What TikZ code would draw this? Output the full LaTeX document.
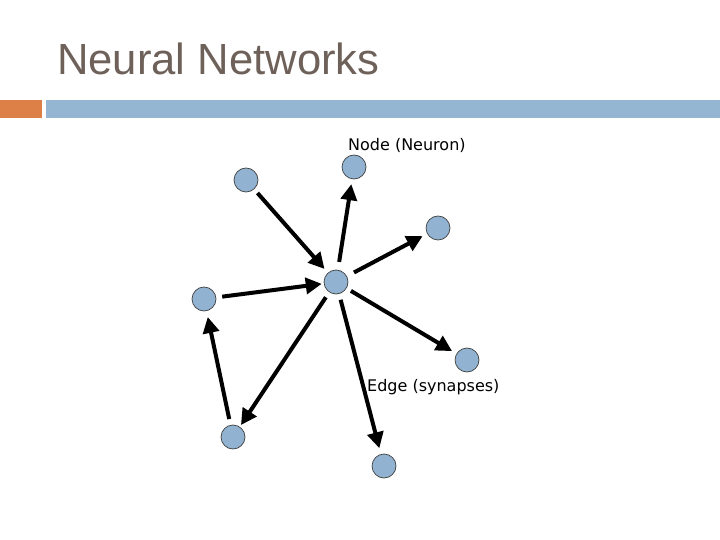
\documentclass[tikz,border=0pt]{standalone}
\usepackage{fontspec}
\setmainfont{Liberation Sans}
\newfontfamily\labelfont{DejaVu Sans}
\usetikzlibrary{arrows.meta}
\definecolor{titlegray}{RGB}{110,97,90}
\definecolor{barorange}{RGB}{221,128,71}
\definecolor{barblue}{RGB}{148,182,210}
\definecolor{neuronblue}{RGB}{145,178,208}
\tikzset{
    neuron/.style={circle, fill=neuronblue, draw=black!75, line width=0.7bp,
        minimum size=24bp, inner sep=0pt},
    synapse/.style={line width=4bp, -{Triangle[length=16bp,width=16bp]}, shorten <=1bp},
    note/.style={font={\labelfont\fontsize{16bp}{19bp}\selectfont}, inner sep=0pt}
}
\begin{document}
\begin{tikzpicture}[x=1bp, y=-1bp]
    \useasboundingbox (0,0) rectangle (720,540);
    % title and bars
    \node[anchor=base west, text=titlegray, font={\fontsize{43.6bp}{50bp}\selectfont}, inner sep=0pt]
        (title) at (57,75) {Neural Networks};
    \fill[barorange] (0,100) rectangle (42,118);
    \fill[barblue] (46,100) rectangle (720,118);
    % neurons
    \node[neuron] (hub) at (336,282) {};
    \node[neuron] (tl) at (246,180) {};
    \node[neuron] (top) at (354,167) {};
    \node[neuron] (rt) at (438,228) {};
    \node[neuron] (lf) at (204,299) {};
    \node[neuron] (lr) at (467,360) {};
    \node[neuron] (bl) at (233,437) {};
    \node[neuron] (bot) at (384,466) {};
    % labels
    \node[note, anchor=base west] (nodelabel) at (348,151) {Node (Neuron)};
    \node[note, anchor=base west] (edgelabel) at (367,391) {Edge (synapses)};
    % synapses
    \draw[synapse, shorten <=5bp, shorten >=5bp] (tl) -- (hub);
    \draw[synapse, shorten <=8bp, shorten >=5bp] (hub) -- (top);
    \draw[synapse, shorten <=8bp, shorten >=5bp] (hub) -- (rt);
    \draw[synapse, shorten <=6bp, shorten >=2bp] (lf) -- (hub);
    \draw[synapse, shorten <=5bp, shorten >=5bp] (hub) -- (lr);
    \draw[synapse, shorten <=6bp, shorten >=2bp] (hub) -- (bl);
    \draw[synapse, shorten <=6bp, shorten >=6bp] (hub) -- (bot);
    \draw[synapse, shorten <=6bp, shorten >=6bp] (bl) -- (lf);
\end{tikzpicture}
\end{document}
